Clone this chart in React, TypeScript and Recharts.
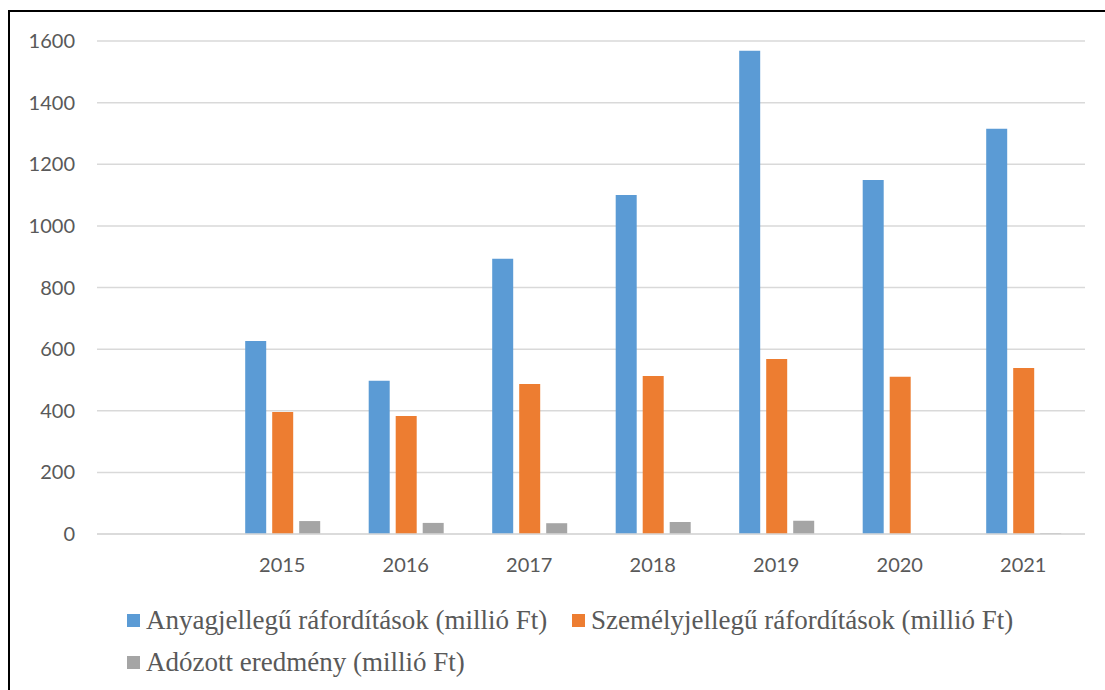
import { BarChart, Bar, XAxis, YAxis, CartesianGrid } from "recharts";

const years = ["", "2015", "2016", "2017", "2018", "2019", "2020", "2021"];
const anyag = [null, 626, 497, 893, 1100, 1568, 1149, 1315];
const szemely = [null, 396, 383, 487, 513, 568, 510, 539];
const adozott = [null, 42, 36, 35, 39, 43, 0, 3];
const yTicks = [0, 200, 400, 600, 800, 1000, 1200, 1400, 1600];

const seriesNames = [
  "Anyagjellegű ráfordítások (millió Ft)",
  "Személyjellegű ráfordítások (millió Ft)",
  "Adózott eredmény (millió Ft)",
];
const seriesColors = ["#5b9bd5", "#ed7d31", "#a5a5a5"];

const data = years.map((year, i) => ({
  year,
  anyag: anyag[i],
  szemely: szemely[i],
  adozott: adozott[i],
}));

const tickStyle = { fontSize: 20, fill: "#595959", fontFamily: "Lato" };

// legend slots: square left x, text baseline y
const legendSlots = [
  [127, 629],
  [572, 629],
  [127, 671],
];

export default function App() {
  return (
    <div style={{ position: "fixed", left: 0, top: 0, width: 1105, height: 690, overflow: "hidden", background: "#fff" }}>
      <div
        style={{
          position: "absolute",
          left: 8,
          top: 10,
          width: 1200,
          height: 800,
          borderLeft: "2px solid #000",
          borderTop: "2px solid #000",
        }}
      />
      <div style={{ position: "absolute", left: 0, top: 0 }}>
        <BarChart
          width={1105}
          height={690}
          data={data}
          margin={{ top: 41, right: 20, left: 0, bottom: 96 }}
          barCategoryGap="20%"
          barGap={6}
        >
          <CartesianGrid horizontal vertical={false} stroke="#d9d9d9" strokeWidth={1.5} />
          <XAxis
            dataKey="year"
            height={60}
            tick={tickStyle}
            tickLine={false}
            axisLine={{ stroke: "#d9d9d9", strokeWidth: 1.5 }}
            tickMargin={18}
            interval={0}
          />
          <YAxis
            width={97}
            domain={[0, 1600]}
            ticks={yTicks}
            tick={tickStyle}
            tickLine={false}
            axisLine={false}
            tickMargin={16}
          />
          <Bar dataKey="anyag" name={seriesNames[0]} fill={seriesColors[0]} isAnimationActive={false} />
          <Bar dataKey="szemely" name={seriesNames[1]} fill={seriesColors[1]} isAnimationActive={false} />
          <Bar dataKey="adozott" name={seriesNames[2]} fill={seriesColors[2]} isAnimationActive={false} />
        </BarChart>
      </div>
      <svg width={1105} height={690} style={{ position: "absolute", left: 0, top: 0 }}>
        {seriesNames.map((name, i) => (
          <g key={name}>
            <rect x={legendSlots[i][0]} y={legendSlots[i][1] - 15} width={13} height={13} fill={seriesColors[i]} />
            <text
              x={legendSlots[i][0] + 19}
              y={legendSlots[i][1]}
              style={{ fontFamily: "serif", fontSize: 27 }}
              fill="#595959"
            >
              {name}
            </text>
          </g>
        ))}
      </svg>
    </div>
  );
}
